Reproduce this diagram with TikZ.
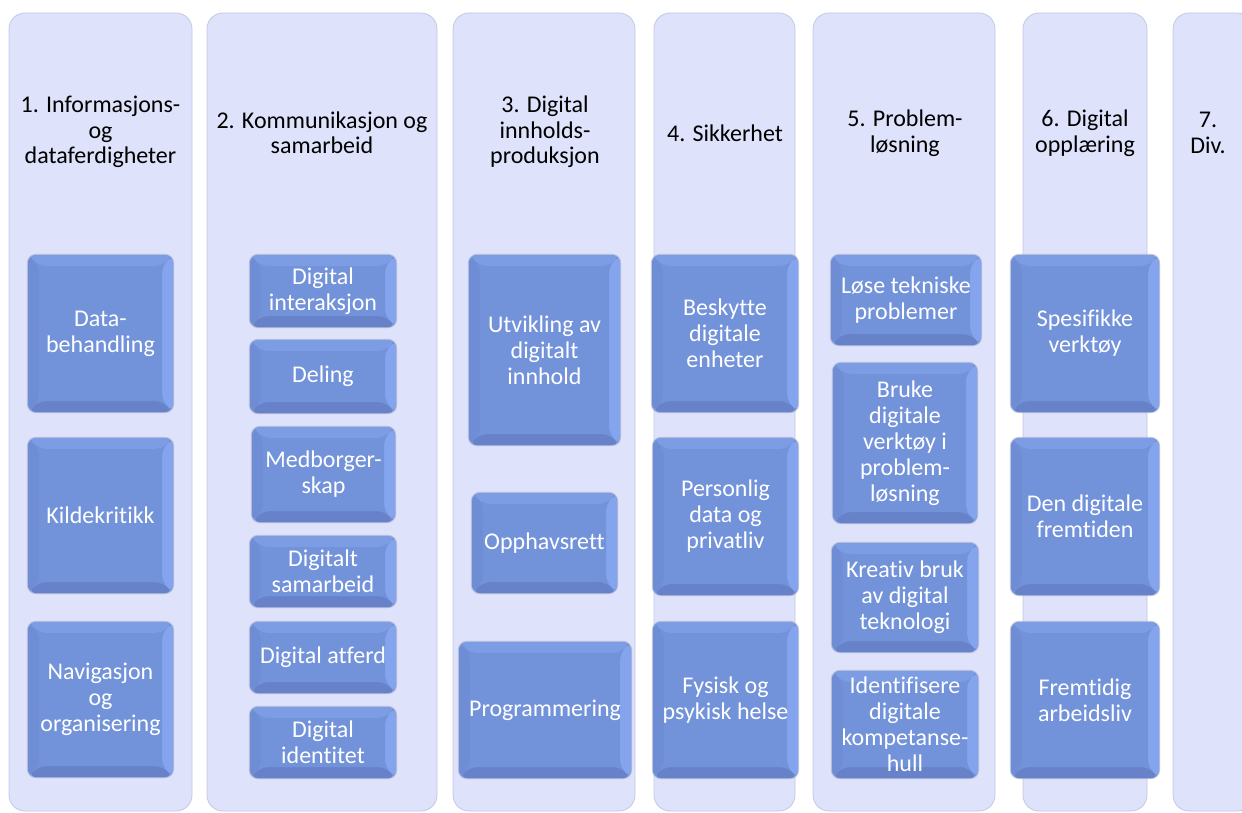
\documentclass[tikz,border=0pt]{standalone}
\usepackage{fontspec}
\setmainfont{Carlito}[RawFeature={-liga;-clig;-calt;-dlig}]
\definecolor{colfill}{HTML}{DEE2FA}
\definecolor{colborder}{HTML}{C3C8E4}
\definecolor{boxmid}{HTML}{7292DA}
\definecolor{boxtop}{HTML}{7C9CE4}
\definecolor{boxright}{HTML}{84A4EE}
\definecolor{boxbottom}{HTML}{6882CA}
\definecolor{boxleft}{HTML}{6E8DD5}
\definecolor{boxshadow}{HTML}{9AA3C8}
\newcommand\bx[6]{\node[box, minimum width={(#4-#2)*1pt}, minimum height={(#5-#3)*1pt}] (#1) at ({(#2+#4)/2},{(#3+#5)/2}) {#6};}
\begin{document}
\begin{tikzpicture}[x=1pt,y=-1pt,
  col/.style={draw=colborder, line width=0.8pt, fill=colfill, rounded corners=16pt, inner sep=0pt, outer sep=0pt,
    preaction={draw=white, line width=3pt}},
  title/.style={align=center, text=black, font=\fontsize{24}{25.5}\selectfont, inner sep=0pt},
  box/.style={rounded corners=8pt, fill=boxmid, text=white, align=center, inner sep=0pt, outer sep=0pt,
    font=\fontsize{24}{26}\selectfont,
    preaction={draw=boxshadow, line width=2.2pt, opacity=0.6},
    path picture={
      \coordinate (A) at (path picture bounding box.north west);
      \coordinate (B) at (path picture bounding box.north east);
      \coordinate (C) at (path picture bounding box.south east);
      \coordinate (D) at (path picture bounding box.south west);
      \coordinate (a) at ([xshift=11pt,yshift=-11pt]A);
      \coordinate (b) at ([xshift=-11pt,yshift=-11pt]B);
      \coordinate (c) at ([xshift=-11pt,yshift=11pt]C);
      \coordinate (d) at ([xshift=11pt,yshift=11pt]D);
      \fill[boxtop] (A) -- (B) -- (b) -- (a) -- cycle;
      \fill[boxright] (B) -- (C) -- (c) -- (b) -- cycle;
      \fill[boxbottom] (C) -- (D) -- (d) -- (c) -- cycle;
      \fill[boxleft] (D) -- (A) -- (a) -- (d) -- cycle;
      \fill[boxmid] (a) rectangle (c);
    }}]
\useasboundingbox (0,0) rectangle (1242,813);
\fill[white] (0,0) rectangle (1242,813);
\clip (0,0) rectangle (1242,813);

% columns
\node[col, minimum width=183pt, minimum height=798pt] (c1) at (100.5,412) {};
\node[col, minimum width=230pt, minimum height=798pt] (c2) at (322,412) {};
\node[col, minimum width=182pt, minimum height=798pt] (c3) at (544,412) {};
\node[col, minimum width=141pt, minimum height=798pt] (c4) at (724.5,412) {};
\node[col, minimum width=182pt, minimum height=798pt] (c5) at (904,412) {};
\node[col, minimum width=124pt, minimum height=798pt] (c6) at (1085,412) {};
\node[col, minimum width=80pt, minimum height=798pt] (c7) at (1213,412) {};

% titles
\node[title] (t1) at (100.5,132) {1. Informasjons-\\og\\dataferdigheter};
\node[title] (t2) at (322,133) {2. Kommunikasjon og\\samarbeid};
\node[title] (t3) at (545,132) {3. Digital\\innholds-\\produksjon};
\node[title] (t4) at (725,133) {4. Sikkerhet};
\node[title] (t5) at (905,133) {5. Problem-\\løsning};
\node[title] (t6) at (1085,133) {6. Digital\\opplæring};
\node[title] (t7) at (1208,133) {7.\\Div.};

% column 1
\bx{b11}{28}{255}{173}{412}{Data-\\behandling}
\bx{b12}{28}{438}{173}{593}{Kildekritikk}
\bx{b13}{28}{622}{173}{777}{Navigasjon\\og\\organisering}
% column 2
\bx{b21}{250}{255}{396}{327}{Digital\\interaksjon}
\bx{b22}{250}{340}{396}{413}{Deling}
\bx{b23}{252}{427}{395}{522}{Medborger-\\skap}
\bx{b24}{250}{536}{396}{607}{Digitalt\\samarbeid}
\bx{b25}{250}{622}{396}{693}{Digital atferd}
\bx{b26}{250}{707}{396}{778}{Digital\\identitet}
% column 3
\bx{b31}{469}{255}{620}{445}{Utvikling av\\digitalt\\innhold}
\bx{b32}{472}{493}{617}{593}{Opphavsrett}
\bx{b33}{459}{642}{631}{778}{Programmering}
% column 4
\bx{b41}{652}{255}{798}{412}{Beskytte\\digitale\\enheter}
\bx{b42}{653}{438}{798}{595}{Personlig\\data og\\privatliv}
\bx{b43}{653}{622}{798}{778}{Fysisk og\\psykisk helse}
% column 5
\bx{b51}{831}{255}{981}{345}{Løse tekniske\\problemer}
\bx{b52}{833}{363}{977}{523}{Bruke\\digitale\\verktøy i\\problem-\\løsning}
\bx{b53}{832}{543}{978}{652}{Kreativ bruk\\av digital\\teknologi}
\bx{b54}{832}{671}{978}{778}{Identifisere\\digitale\\kompetanse-\\hull}
% column 6
\bx{b61}{1011}{255}{1159}{412}{Spesifikke\\verktøy}
\bx{b62}{1011}{438}{1159}{595}{Den digitale\\fremtiden}
\bx{b63}{1011}{622}{1159}{778}{Fremtidig\\arbeidsliv}
\end{tikzpicture}
\end{document}
